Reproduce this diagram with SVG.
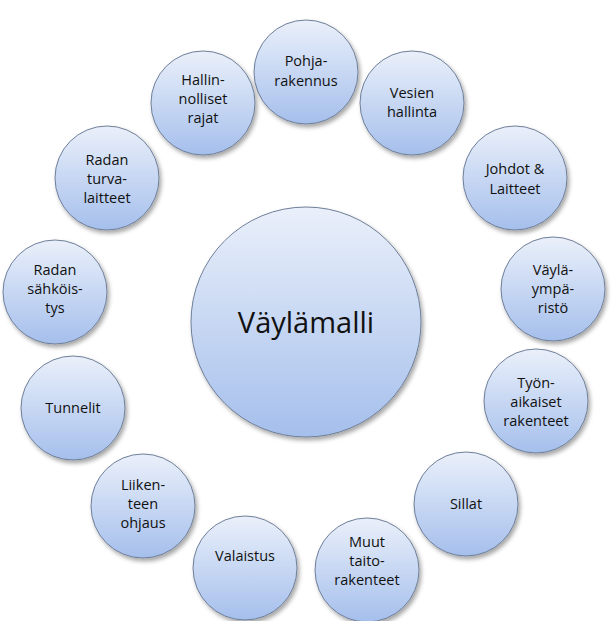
<svg xmlns="http://www.w3.org/2000/svg" width="613" height="621" viewBox="0 0 613 621">
<defs>
<linearGradient id="g" x1="0" y1="0" x2="0" y2="1"><stop offset="0" stop-color="#eaf0fa"/><stop offset="1" stop-color="#a5bfec"/></linearGradient>
<filter id="s" x="-20%" y="-20%" width="150%" height="150%"><feDropShadow dx="2" dy="3" stdDeviation="2" flood-color="#000" flood-opacity="0.35"/></filter>
</defs>
<style>
circle{fill:url(#g);stroke:#6f7f99;stroke-width:1;filter:url(#s)}
text{font-family:"Open Sans","Liberation Sans",sans-serif;font-size:14.5px;fill:#111;text-anchor:middle}
.b{font-size:29px}
</style>
<rect width="613" height="621" fill="#fff"/>
<g id="connectors"/>
<g id="center"><circle cx="306" cy="322" r="115"/><text class="b" x="306" y="333">Väylämalli</text></g>
<g id="n1"><circle cx="306" cy="72" r="52"/><text x="306" y="66">Pohja-</text><text x="306" y="86">rakennus</text></g>
<g id="n2"><circle cx="412" cy="103" r="52"/><text x="412" y="98">Vesien</text><text x="412" y="117">hallinta</text></g>
<g id="n3"><circle cx="515" cy="178" r="52"/><text x="515" y="174">Johdot &amp;</text><text x="515" y="194">Laitteet</text></g>
<g id="n4"><circle cx="553" cy="289" r="52"/><text x="553" y="275">Väylä-</text><text x="553" y="294">ympä-</text><text x="553" y="313">ristö</text></g>
<g id="n5"><circle cx="536" cy="401" r="52"/><text x="536" y="388">Työn-</text><text x="536" y="407">aikaiset</text><text x="536" y="426">rakenteet</text></g>
<g id="n6"><circle cx="466" cy="504" r="52"/><text x="466" y="509">Sillat</text></g>
<g id="n7"><circle cx="367" cy="570" r="52"/><text x="367" y="547">Muut</text><text x="367" y="566">taito-</text><text x="367" y="585">rakenteet</text></g>
<g id="n8"><circle cx="245" cy="568" r="52"/><text x="245" y="561">Valaistus</text></g>
<g id="n9"><circle cx="143" cy="506" r="52"/><text x="143" y="490">Liiken-</text><text x="143" y="509">teen</text><text x="143" y="528">ohjaus</text></g>
<g id="n10"><circle cx="73" cy="408" r="52"/><text x="73" y="413">Tunnelit</text></g>
<g id="n11"><circle cx="55" cy="292" r="52"/><text x="55" y="275">Radan</text><text x="55" y="294">sähköis-</text><text x="55" y="313">tys</text></g>
<g id="n12"><circle cx="107" cy="178" r="52"/><text x="107" y="165">Radan</text><text x="107" y="184">turva-</text><text x="107" y="203">laitteet</text></g>
<g id="n13"><circle cx="203" cy="103" r="52"/><text x="203" y="85">Hallin-</text><text x="203" y="104">nolliset</text><text x="203" y="123">rajat</text></g>
</svg>
